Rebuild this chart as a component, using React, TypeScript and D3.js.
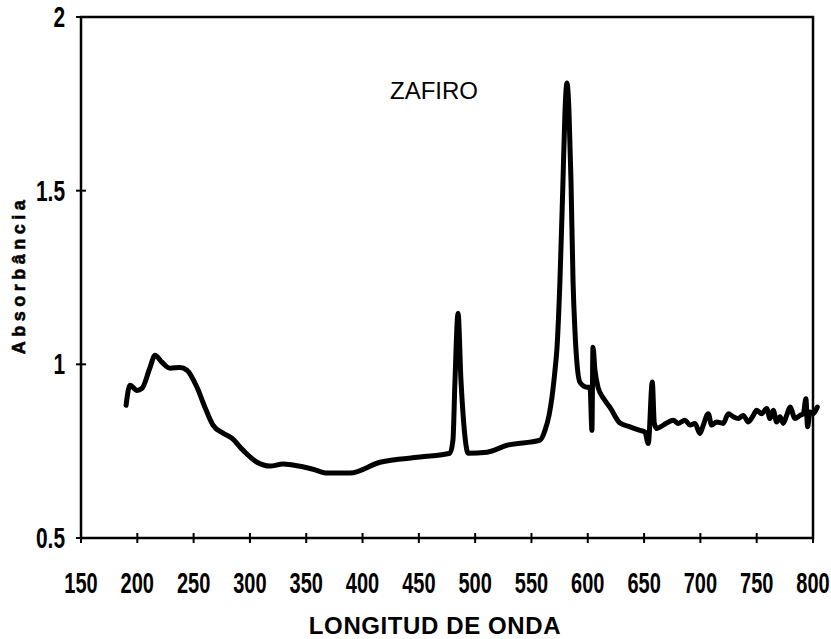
import React from "react";
import * as d3 from "d3";

const wavelength = [
  190, 193.5, 199.7, 204.2, 211.3, 215.7, 221.9, 229, 237.9, 244.1, 253, 260.1, 267.2, 276.1, 284.1,
  293.8, 306.3, 317.8, 329.4, 338.2, 356, 368.4, 380, 388.9, 415.5, 451, 477.6, 480.3, 482.1, 484.8,
  487.4, 489.2, 491.9, 493.6, 510.5, 528.3, 557.6, 562, 565.6, 568.2, 570.9, 572.7, 575.3, 578, 579.8,
  581.5, 583.3, 585.1, 586.9, 588.6, 590.4, 593.1, 599.3, 602, 603.7, 604.6, 606.4, 609.1, 614.4, 619.7,
  628.6, 637.5, 646.4, 650.8, 653.7, 657.3, 659.1, 661.2, 667.1, 675.9, 680.4, 686.3, 690.8, 695.2,
  699.6, 702.6, 707, 710, 714.4, 720.3, 724.8, 729.2, 733.6, 738.1, 742.5, 747, 750, 754.4, 758.9,
  761.8, 764.7, 767.7, 770.7, 773.6, 776.6, 779.6, 784, 788.4, 791.4, 793.7, 795.2, 797.3, 800.2, 803.8,
];
const absorbance = [
  0.882, 0.94, 0.925, 0.931, 0.991, 1.026, 1.006, 0.989, 0.991, 0.983, 0.934, 0.876, 0.825, 0.802, 0.787,
  0.753, 0.718, 0.707, 0.713, 0.71, 0.698, 0.687, 0.687, 0.687, 0.718, 0.733, 0.744, 0.782, 0.954, 1.147,
  0.954, 0.859, 0.767, 0.744, 0.747, 0.767, 0.782, 0.81, 0.853, 0.905, 0.983, 1.049, 1.241, 1.529, 1.73,
  1.81, 1.73, 1.529, 1.241, 1.098, 1.003, 0.948, 0.934, 0.934, 0.81, 1.049, 0.983, 0.934, 0.9, 0.876,
  0.831, 0.82, 0.81, 0.805, 0.772, 0.949, 0.83, 0.815, 0.825, 0.839, 0.83, 0.839, 0.825, 0.83,
  0.801, 0.825, 0.858, 0.825, 0.834, 0.83, 0.858, 0.849, 0.844, 0.853, 0.834, 0.853, 0.868, 0.858, 0.873,
  0.844, 0.868, 0.834, 0.849, 0.83, 0.853, 0.877, 0.844, 0.853, 0.858, 0.901, 0.82, 0.863, 0.858, 0.877,
];
const xTicks = [150, 200, 250, 300, 350, 400, 450, 500, 550, 600, 650, 700, 750, 800];
const yTicks = [0.5, 1, 1.5, 2];
const yTickLabels = ["0.5", "1", "1.5", "2"];
const title = "ZAFIRO";
const xTitle = "LONGITUD DE ONDA";
const yTitle = "Absorbância";

const W = 831;
const H = 639;
const left = 81, right = 813, top = 17, bottom = 538;

export default function App() {
  const x = d3.scaleLinear().domain([150, 800]).range([left, right]);
  const y = d3.scaleLinear().domain([0.5, 2]).range([bottom, top]);
  const pts: [number, number][] = wavelength.map((w, i) => [w, absorbance[i]]);
  const line = d3
    .line<[number, number]>()
    .x((d) => x(d[0]))
    .y((d) => y(d[1]))
    .curve(d3.curveMonotoneX);
  const numFont = "'Liberation Sans', Arial, sans-serif";
  return (
    <svg
      width={W}
      height={H}
      style={{ position: "absolute", left: 0, top: 0, background: "#fff" }}
    >
      <rect x={0} y={0} width={W} height={H} fill="#fff" />
      <rect
        x={left}
        y={top}
        width={right - left}
        height={bottom - top}
        fill="none"
        stroke="#000"
        strokeWidth={2.5}
      />
      {yTicks.map((t, i) => (
        <g key={"y" + t}>
          <line x1={left - 5} x2={left + 5} y1={y(t)} y2={y(t)} stroke="#000" strokeWidth={2} />
          <text
            transform={`translate(65, ${y(t) + 10}) scale(0.72, 1)`}
            textAnchor="end"
            fontFamily={numFont}
            fontWeight="bold"
            fontSize={29}
            fill="#000"
          >
            {yTickLabels[i]}
          </text>
        </g>
      ))}
      {xTicks.map((t) => (
        <g key={"x" + t}>
          <line x1={x(t)} x2={x(t)} y1={bottom - 5} y2={bottom + 5} stroke="#000" strokeWidth={2} />
          <text
            transform={`translate(${x(t)}, 593) scale(0.69, 1)`}
            textAnchor="middle"
            fontFamily={numFont}
            fontWeight="bold"
            fontSize={29}
            fill="#000"
          >
            {t}
          </text>
        </g>
      ))}
      <path
        d={line(pts) || ""}
        fill="none"
        stroke="#000"
        strokeWidth={5}
        strokeLinejoin="round"
        strokeLinecap="round"
      />
      <text
        x={434}
        y={99}
        textAnchor="middle"
        fontFamily="'Liberation Sans', Arial, sans-serif"
        fontSize={24}
        fill="#000"
      >
        {title}
      </text>
      <text
        x={435}
        y={634}
        textAnchor="middle"
        fontFamily="'Liberation Sans', Arial, sans-serif"
        fontWeight="bold"
        fontSize={24}
        letterSpacing={0.6}
        fill="#000"
      >
        {xTitle}
      </text>
      <text
        transform="translate(25, 275) rotate(-90)"
        textAnchor="middle"
        fontFamily="'Liberation Sans', Arial, sans-serif"
        fontWeight="bold"
        fontSize={18}
        letterSpacing={4.5}
        stroke="#000"
        strokeWidth={0.6}
        fill="#000"
      >
        {yTitle}
      </text>
    </svg>
  );
}
